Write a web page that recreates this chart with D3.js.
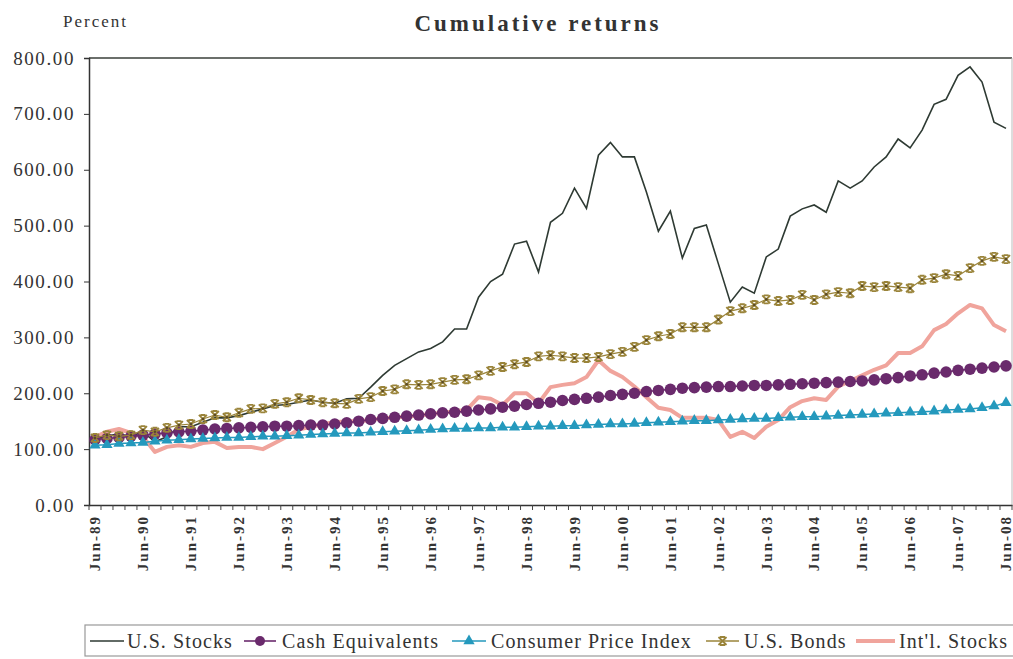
<!DOCTYPE html>
<html>
<head>
<meta charset="utf-8">
<script src="https://cdn.jsdelivr.net/npm/d3@7"></script>
<style>
  body { margin: 0; background: #fff; }
  text { font-family: "Liberation Serif", "Times New Roman", serif; fill: #333; }
</style>
</head>
<body>
<div id="chart"></div>
<script>
// quarterly, Jun-89 .. Jun-08
var months = ["Jun", "Sep", "Dec", "Mar"];
var quarters = [];
for (var q = 0; q < 77; q++) {
    var yy = (89 + Math.floor((q + 1) / 4)) % 100;
    quarters.push(months[q % 4] + "-" + (yy < 10 ? "0" + yy : yy));
}

var usStocks = [117,124,127,123,131,113,122,140,140,148,
                156,156,160,166,172,178,180,184,188,184,
                182,190,191,211,232,250,262,274,280,292,
                315,315,372,400,413,467,472,417,506,522,
                567,531,626,649,623,623,560,490,526,442,
                495,501,432,363,390,379,444,458,517,530,
                537,524,580,567,580,605,623,655,639,671,
                717,726,769,784,757,685,674];

var cashEq = [117,119,121,123,125,127,129,131,132,134,
              136,137,138,139,140,141,141,142,143,143,
              145,147,150,153,155,157,159,161,163,165,
              166,168,170,172,175,177,180,182,184,187,
              189,191,193,196,198,200,203,205,207,209,
              210,211,212,212,213,214,214,215,216,217,
              218,219,220,221,222,224,226,228,231,233,
              236,238,241,243,245,247,249];

var cpi = [107,108,110,111,112,114,116,117,118,119,
           120,121,121,122,123,123,124,125,126,127,
           128,129,129,130,131,132,133,134,135,136,
           137,137,138,138,139,139,140,141,141,142,
           142,143,144,145,145,146,147,148,149,150,
           151,151,152,153,154,155,155,156,157,158,
           158,159,160,161,162,163,164,165,166,167,
           168,170,171,172,174,177,183];

var usBonds = [120,125,123,125,134,131,138,143,145,154,
               161,157,165,172,173,181,184,191,188,184,
               182,181,190,193,204,207,216,215,216,220,
               224,225,232,240,247,252,256,266,268,266,
               263,263,265,270,274,283,295,302,306,318,
               318,318,332,347,352,358,368,365,367,376,
               367,377,381,379,392,390,392,390,388,403,
               406,413,410,424,437,444,440];

var intlStocks = [122,131,136,129,122,95,104,107,104,111,
                  113,102,104,104,100,111,122,135,140,145,
                  148,150,150,152,155,157,158,160,163,165,
                  168,170,193,190,179,200,200,182,211,215,
                  218,229,259,240,229,212,193,174,170,156,
                  156,156,152,122,131,120,140,152,175,186,
                  191,188,212,222,232,242,250,272,272,284,
                  313,324,343,358,352,322,311];

var yTicks = [0, 100, 200, 300, 400, 500, 600, 700, 800];
var seriesNames = ["U.S. Stocks", "Cash Equivalents", "Consumer Price Index", "U.S. Bonds", "Int'l. Stocks"];

var W = 1013, H = 659;
var pLeft = 89, pRight = 1012, pTop = 58, pBottom = 505;

var svg = d3.select("#chart").append("svg")
    .attr("width", W).attr("height", H);

var x = d3.scaleBand().domain(quarters).range([pLeft, pRight]);
var y = d3.scaleLinear().domain([0, 800]).range([pBottom, pTop]);
var cx = function (d, i) { return x(quarters[i]) + x.bandwidth() / 2; };

var colStocks = "#2e3a33", colCash = "#6a2a6c", colCpi = "#2499bd",
    colBonds = "#9a843a", colIntl = "#f0a49c";

// frame
svg.append("line").attr("x1", pLeft).attr("x2", pRight).attr("y1", pTop).attr("y2", pTop)
    .attr("stroke", "#3a3f3a").attr("stroke-width", 1.5);
svg.append("line").attr("x1", pRight).attr("x2", pRight).attr("y1", pTop).attr("y2", pBottom)
    .attr("stroke", "#bbb").attr("stroke-width", 1);

// y axis
var yAxis = svg.append("g")
    .attr("transform", "translate(" + pLeft + ",0)")
    .call(d3.axisLeft(y).tickValues(yTicks).tickFormat(d3.format(".2f")).tickSize(5).tickPadding(9));
yAxis.select(".domain").attr("stroke", "#333").attr("stroke-width", 1.5);
yAxis.selectAll("line").attr("stroke", "#333");
yAxis.selectAll("text")
    .style("font-family", "Liberation Serif")
    .style("font-size", "19px")
    .style("letter-spacing", "1.6px")
    .attr("fill", "#333");

// x axis
var junLabels = quarters.filter(function (d, i) { return i % 4 === 0; });
var xAxis = svg.append("g")
    .attr("transform", "translate(0," + pBottom + ")")
    .call(d3.axisBottom(x).tickValues(junLabels).tickSize(0).tickSizeOuter(0));
xAxis.select(".domain").attr("stroke", "#333").attr("stroke-width", 1.5);
xAxis.selectAll("text")
    .attr("transform", "rotate(-90)")
    .attr("x", -10).attr("y", 0).attr("dy", "0.35em")
    .style("text-anchor", "end")
    .style("font-family", "Liberation Serif")
    .style("font-weight", "bold")
    .style("font-size", "15px")
    .style("letter-spacing", "2px")
    .attr("fill", "#333");

// minor ticks at category boundaries
xAxis.selectAll(".minor")
    .data(quarters.concat(["end"]))
    .enter().append("line")
    .attr("x1", function (d) { return d === "end" ? pRight : x(d); })
    .attr("x2", function (d) { return d === "end" ? pRight : x(d); })
    .attr("y1", 0).attr("y2", 5)
    .attr("stroke", "#444");

function lineOf(vals) {
    return d3.line().x(function (d, i) { return cx(d, i); }).y(function (d) { return y(d); })(vals);
}

var plot = svg.append("g");

// Int'l stocks (thick pink, behind)
plot.append("path").attr("d", lineOf(intlStocks))
    .attr("fill", "none").attr("stroke", colIntl).attr("stroke-width", 4)
    .attr("stroke-linejoin", "round");

// U.S. stocks
plot.append("path").attr("d", lineOf(usStocks))
    .attr("fill", "none").attr("stroke", colStocks).attr("stroke-width", 1.6);

// cash
plot.append("path").attr("d", lineOf(cashEq))
    .attr("fill", "none").attr("stroke", colCash).attr("stroke-width", 1.5);
plot.selectAll(".cash").data(cashEq).enter().append("circle")
    .attr("cx", cx).attr("cy", function (d) { return y(d); })
    .attr("r", 5.8).attr("fill", colCash);

// CPI
plot.append("path").attr("d", lineOf(cpi))
    .attr("fill", "none").attr("stroke", colCpi).attr("stroke-width", 1.5);
var tri = d3.symbol().type(d3.symbolTriangle).size(55);
plot.selectAll(".cpi").data(cpi).enter().append("path")
    .attr("d", tri)
    .attr("transform", function (d, i) { return "translate(" + cx(d, i) + "," + y(d) + ")"; })
    .attr("fill", colCpi);

// bonds
var starPath = "M-4,-4L4,4M4,-4L-4,4M-2.5,-4H2.5M-2.5,4H2.5";
plot.append("path").attr("d", lineOf(usBonds))
    .attr("fill", "none").attr("stroke", colBonds).attr("stroke-width", 1.2);
plot.selectAll(".bond").data(usBonds).enter().append("path")
    .attr("d", starPath)
    .attr("transform", function (d, i) { return "translate(" + cx(d, i) + "," + y(d) + ")"; })
    .attr("fill", "none").attr("stroke", colBonds).attr("stroke-width", 1.9);
plot.selectAll(".bondc").data(usBonds).enter().append("circle")
    .attr("cx", cx).attr("cy", function (d) { return y(d); })
    .attr("r", 1.3).attr("fill", "#5a4a26");

// titles
svg.append("text").attr("x", 63).attr("y", 27)
    .style("font-size", "17px").style("letter-spacing", "2px").text("Percent");
svg.append("text").attr("x", 538).attr("y", 31)
    .attr("text-anchor", "middle")
    .style("font-size", "23px").style("font-weight", "bold").style("letter-spacing", "3px")
    .attr("fill", "#222")
    .text("Cumulative returns");

// legend
var lg = svg.append("g");
lg.append("rect").attr("x", 85).attr("y", 625).attr("width", 940).attr("height", 31)
    .attr("fill", "none").attr("stroke", "#999").attr("stroke-width", 1.2);
var legX = [[90, 124, 127], [244, 276, 282], [452, 486, 491], [706, 739, 744], [856, 895, 899]];
var ly = 641;
seriesNames.forEach(function (name, k) {
    var p = legX[k];
    var col = [colStocks, colCash, colCpi, colBonds, colIntl][k];
    lg.append("line").attr("x1", p[0]).attr("x2", p[1]).attr("y1", ly).attr("y2", ly)
        .attr("stroke", col).attr("stroke-width", k === 4 ? 4 : 1.6);
    var mx = (p[0] + p[1]) / 2;
    if (k === 1) lg.append("circle").attr("cx", mx).attr("cy", ly).attr("r", 5).attr("fill", col);
    if (k === 2) lg.append("path").attr("d", tri).attr("transform", "translate(" + mx + "," + ly + ")").attr("fill", col);
    if (k === 3) lg.append("path").attr("d", starPath).attr("transform", "translate(" + mx + "," + ly + ")")
        .attr("fill", "none").attr("stroke", col).attr("stroke-width", 1.8);
    lg.append("text").attr("x", p[2]).attr("y", ly).attr("dy", "0.35em")
        .style("font-size", "20px").style("letter-spacing", "1.1px").attr("fill", "#222").text(name);
});
</script>
</body>
</html>
